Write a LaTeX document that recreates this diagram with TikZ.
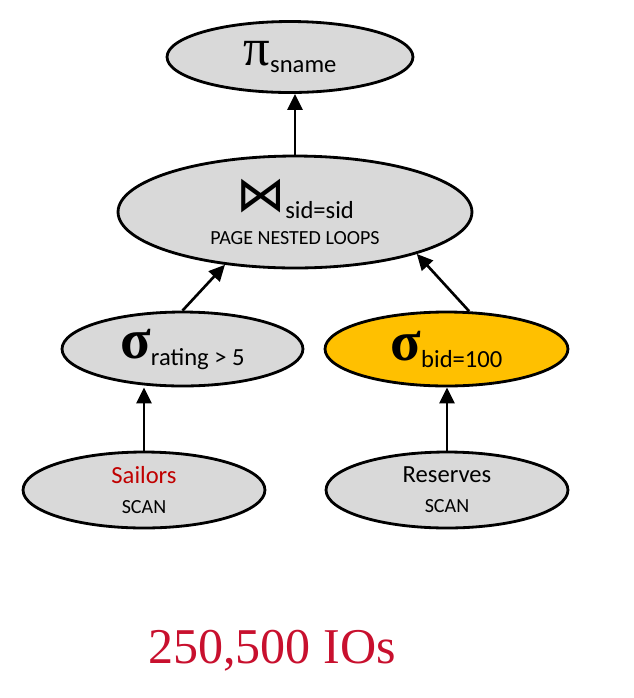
\documentclass[tikz,border=0pt]{standalone}
\usepackage{fontspec}
\setmainfont{Carlito}
\newfontfamily\greekfont{Liberation Serif}
\newfontfamily\symfont{DejaVu Sans}
\usetikzlibrary{arrows.meta,shapes.geometric}
\definecolor{opgray}{HTML}{D9D9D9}
\definecolor{opgold}{HTML}{FFC000}
\definecolor{relred}{HTML}{C00000}
\definecolor{costred}{HTML}{C8102E}
\newcommand{\opsub}[1]{\raisebox{-4pt}{\fontsize{14}{16}\selectfont #1}}
\newcommand{\opbig}[1]{{\greekfont\fontsize{30}{30}\selectfont #1}}
\newcommand{\opnote}[1]{{\fontsize{11.4}{13}\selectfont #1}}
\tikzset{
  % Base styles
  plan base/.style={
    >={Triangle[length=3.2mm,width=3mm]},
    x=0.02cm, y=-0.02cm,
  },
  % Operator nodes
  op node/.style={ellipse, draw, line width=1.6pt, fill=opgray, inner sep=0pt, align=center},
  hot op/.style={op node, fill=opgold},
  % Edges
  plan edge/.style={->, line width=1.5pt},
}

\begin{document}
\begin{tikzpicture}[plan base]
\useasboundingbox (0,0) rectangle (634,698);

% Projection
\node[op node, minimum width=4.92cm, minimum height=1.42cm] (proj) at (290,57)
  {\opbig{π}\opsub{sname}};

% Join
\node[op node, minimum width=7.08cm, minimum height=2.24cm] (join) at (295,212)
  {{\symfont\fontsize{28}{28}\selectfont ⋈}\opsub{sid=sid}\\[7pt]\opnote{PAGE NESTED LOOPS}};

% Selections
\node[op node, minimum width=4.82cm, minimum height=1.48cm] (selR) at (182.5,349)
  {{\greekfont\bfseries\fontsize{32}{32}\selectfont σ}\opsub{rating > 5}};
\node[hot op, minimum width=4.86cm, minimum height=1.48cm] (selB) at (446.5,349)
  {{\greekfont\bfseries\fontsize{32}{32}\selectfont σ}\opsub{bid=100}};

% Scans
\node[op node, minimum width=4.84cm, minimum height=1.52cm] (sailors) at (144,490)
  {\textcolor{relred}{\fontsize{14}{16}\selectfont Sailors}\\[5pt]\opnote{SCAN}};
\node[op node, minimum width=4.84cm, minimum height=1.52cm] (reserves) at (447,490)
  {{\fontsize{14}{16}\selectfont Reserves}\\[5pt]\opnote{SCAN}};

% Edges
\draw[plan edge] (join.north) -- (join.north |- proj.south);
\draw[plan edge] (selR.north) -- (join.217);
\draw[plan edge] (selB.59) -- (join.341);
\draw[plan edge] (sailors.north) -- (sailors.north |- selR.south);
\draw[plan edge] (reserves.north) -- (reserves.north |- selB.south);

% Cost
\node[anchor=base, text=costred, font=\greekfont\fontsize{28.5}{28.5}\selectfont] (cost) at (272,663) {250,500 IOs};
\end{tikzpicture}
\end{document}
